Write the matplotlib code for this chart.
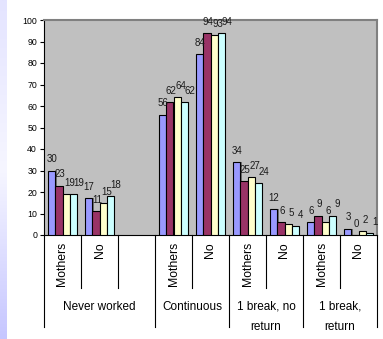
# Work history of mothers vs. non-mothers, grouped bar chart
import matplotlib.pyplot as plt, numpy as np
from matplotlib.colors import LinearSegmentedColormap

plt.rcParams['font.family'] = ['Liberation Sans', 'DejaVu Sans']

# Category slots (one empty slot after "Never worked")
slots = ['Mothers', 'No', '', 'Mothers', 'No', 'Mothers', 'No', 'Mothers', 'No']
groups = ['Never worked', 'Continuous', '1 break, no\nreturn', '1 break,\nreturn']
group_edges = [0, 3, 5, 7, 9]

# Four series per slot (None = empty slot)
s1 = [30, 17, None, 56, 84, 34, 12, 6, 3]
s2 = [23, 11, None, 62, 94, 25, 6, 9, 0]
s3 = [19, 15, None, 64, 93, 27, 5, 6, 2]
s4 = [19, 18, None, 62, 94, 24, 4, 9, 1]
series = [s1, s2, s3, s4]
colors = ['#9999FF', '#993366', '#FFFFCC', '#CCFFFF']
label_shift = [0.0, 0.03, 0.1, 0.15]

fig = plt.figure(figsize=(3.83, 3.39), dpi=100)

# Lavender strip on the left edge
strip = fig.add_axes([0, 0, 7 / 383, 1])
cmap = LinearSegmentedColormap.from_list('lav', ['#E4E4FF', '#F6F6FF', '#C6C6FF'])
strip.imshow(np.linspace(0, 1, 200).reshape(-1, 1), aspect='auto', cmap=cmap)
strip.axis('off')

ax = fig.add_axes([44 / 383, 1 - 235 / 339, 333 / 383, 215 / 339])
ax.set_facecolor('#C0C0C0')

width = 0.19
offsets = np.array([-1.5, -0.5, 0.5, 1.5]) * width
for vals, col, off, sh in zip(series, colors, offsets, label_shift):
    for i, v in enumerate(vals):
        if v is None:
            continue
        x = i + 0.5 + off
        ax.bar(x + 0.035, v, width, color='#707070', zorder=2, linewidth=0)
        ax.bar(x, v, width, color=col, edgecolor='black', linewidth=0.8, zorder=3)
        ax.text(x + sh, v + 3.8, str(v), ha='center', va='baseline', fontsize=7,
                color='#1a1a1a', zorder=4)

ax.set_xlim(0, 9)
ax.set_ylim(0, 100)
ax.set_yticks(np.arange(0, 101, 10))
ax.tick_params(axis='y', labelsize=6.3, length=3, pad=2, width=0.8)
ax.set_xticks([])
for side in ['top', 'right']:
    ax.spines[side].set_color('#808080')
    ax.spines[side].set_linewidth(1.5)
for side in ['left', 'bottom']:
    ax.spines[side].set_color('black')
    ax.spines[side].set_linewidth(0.8)

# Category axis: short separators between slots, long ones between groups
trans = ax.get_xaxis_transform()
for e in range(10):
    y_end = -0.428 if e in group_edges else -0.2465
    if e in group_edges or e in [1, 2, 4, 6, 8]:
        ax.plot([e, e], [0, y_end], color='black', lw=0.8, transform=trans, clip_on=False)

for i, lab in enumerate(slots):
    if lab:
        ax.text(i + 0.5, -0.033, lab, rotation=90, ha='center', va='top',
                fontsize=8.8, transform=trans)

for g, lab in enumerate(groups):
    xc = (group_edges[g] + group_edges[g + 1]) / 2
    ax.text(xc, -0.305, lab, ha='center', va='top', fontsize=8.5,
            linespacing=1.9, transform=trans)

fig.savefig('out.png', dpi=100)
